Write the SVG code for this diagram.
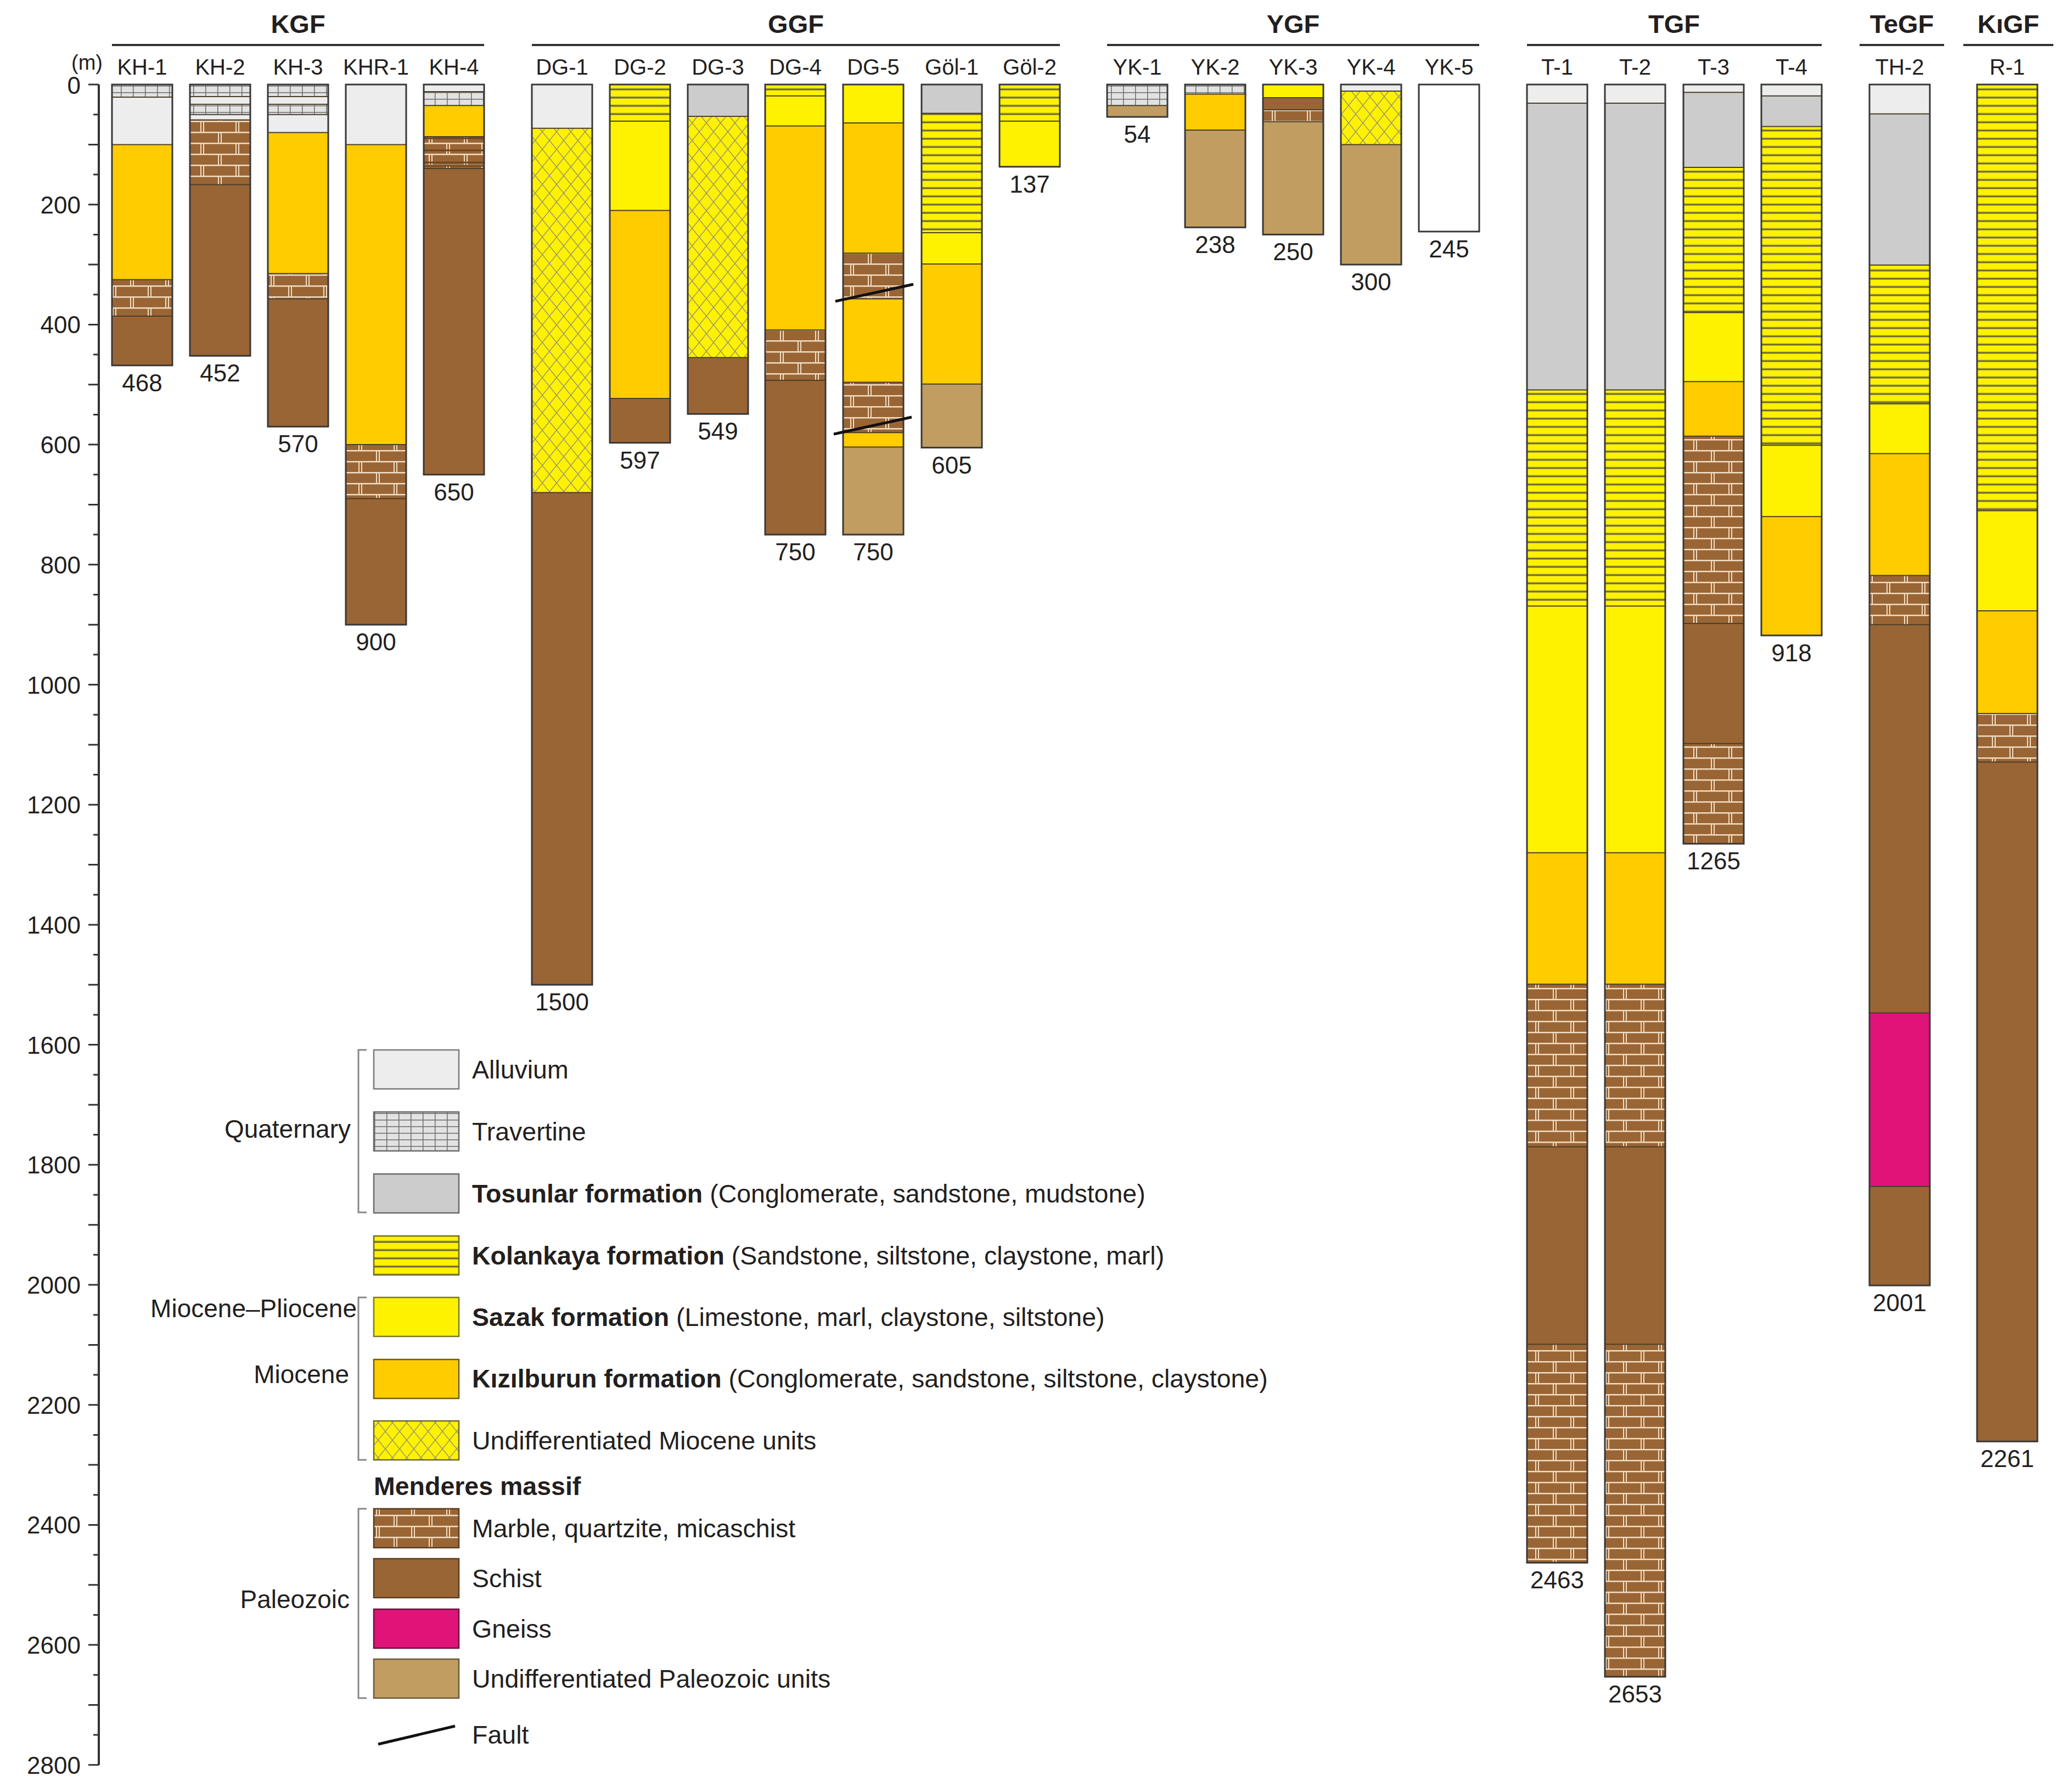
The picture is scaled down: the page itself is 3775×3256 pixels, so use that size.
<svg xmlns="http://www.w3.org/2000/svg" width="3775" height="3256" viewBox="0 0 3775 3256">
<style>
text{font-family:"Liberation Sans",Arial,sans-serif;fill:#231f20}
.hdr{font-size:47px;font-weight:bold;text-anchor:middle}
.wl{font-size:40px;text-anchor:middle}
.dl{font-size:44px;text-anchor:middle}
.ax{font-size:44px;text-anchor:end}
.lg{font-size:46.5px}
.lgl{font-size:46px;text-anchor:end}
.hl{stroke:#333;stroke-width:4;fill:none}
.al{fill:#EDEDED}.tr{fill:url(#trav)}.to{fill:#CCCCCC}.ko{fill:url(#kol)}.sa{fill:#FFF200}.ki{fill:#FFCC00}
.um{fill:url(#umio)}.ma{fill:url(#marb)}.sc{fill:#9A6535}.gn{fill:#DF1378}.up{fill:#C19D62}.wh{fill:#FFFFFF}
.sep{stroke:#4a3f2a;stroke-width:2;fill:none}
.out{fill:none;stroke:#383838;stroke-width:3}
.flt{stroke:#111;stroke-width:5;stroke-linecap:butt}
.brk{stroke:#888;stroke-width:3;fill:none}
.lb{stroke-width:2.5}
</style>
<defs>
<pattern id="trav" patternUnits="userSpaceOnUse" width="22" height="12">
<rect width="22" height="12" fill="#E2E2E2"/>
<path d="M0 0.75H22M0.75 0V12" stroke="#6a6a6a" stroke-width="1.5"/>
</pattern>
<pattern id="kol" patternUnits="userSpaceOnUse" width="20" height="15">
<rect width="20" height="15" fill="#FFF200"/>
<rect y="10.5" width="20" height="4.5" fill="#ABA53A"/>
<rect y="12" width="20" height="1.6" fill="#5E5A28"/>
</pattern>
<pattern id="umio" patternUnits="userSpaceOnUse" width="26" height="32">
<rect width="26" height="32" fill="#FFF200"/>
<path d="M0 16L13 0L26 16L13 32Z" fill="none" stroke="#9E9A6B" stroke-width="1.6"/>
</pattern>
<pattern id="marb" patternUnits="userSpaceOnUse" width="64" height="40">
<rect width="64" height="40" fill="#9A6535"/>
<path d="M0 1.25H64M0 21.25H64" stroke="#F3DEC2" stroke-width="2.5"/>
<path d="M14 1V21M19 1V21M46 21V41M51 21V41" stroke="#F3DEC2" stroke-width="2"/>
</pattern>
</defs>

<g id="axis">
<path class="hl" d="M180 154V3216"/>
<path stroke="#333" stroke-width="3" fill="none" d="M161 154H180M170 208.7H180M161 263.4H180M170 318H180M161 372.7H180M170 427.4H180M161 482.1H180M170 536.7H180M161 591.4H180M170 646.1H180M161 700.8H180M170 755.4H180M161 810.1H180M170 864.8H180M161 919.5H180M170 974.1H180M161 1028.8H180M170 1083.5H180M161 1138.2H180M170 1192.8H180M161 1247.5H180M170 1302.2H180M161 1356.9H180M170 1411.5H180M161 1466.2H180M170 1520.9H180M161 1575.6H180M170 1630.2H180M161 1684.9H180M170 1739.6H180M161 1794.3H180M170 1848.9H180M161 1903.6H180M170 1958.3H180M161 2013H180M170 2067.6H180M161 2122.3H180M170 2177H180M161 2231.7H180M170 2286.3H180M161 2341H180M170 2395.7H180M161 2450.4H180M170 2505H180M161 2559.7H180M170 2614.4H180M161 2669.1H180M170 2723.7H180M161 2778.4H180M170 2833.1H180M161 2887.8H180M170 2942.4H180M161 2997.1H180M170 3051.8H180M161 3106.5H180M170 3161.1H180M161 3215.8H180"/>
<text x="130" y="127" style="font-size:38px">(m)</text>
<text class="ax" x="147" y="171">0</text>
<text class="ax" x="147" y="388.7">200</text>
<text class="ax" x="147" y="607.4">400</text>
<text class="ax" x="147" y="826.1">600</text>
<text class="ax" x="147" y="1044.8">800</text>
<text class="ax" x="147" y="1263.5">1000</text>
<text class="ax" x="147" y="1482.2">1200</text>
<text class="ax" x="147" y="1700.9">1400</text>
<text class="ax" x="147" y="1919.6">1600</text>
<text class="ax" x="147" y="2138.3">1800</text>
<text class="ax" x="147" y="2357">2000</text>
<text class="ax" x="147" y="2575.7">2200</text>
<text class="ax" x="147" y="2794.4">2400</text>
<text class="ax" x="147" y="3013.1">2600</text>
<text class="ax" x="147" y="3231.8">2800</text>
</g>

<g id="headers">
<text class="hdr" x="543" y="60">KGF</text><path class="hl" d="M204 82H882"/>
<text class="hdr" x="1450" y="60">GGF</text><path class="hl" d="M969 82H1931"/>
<text class="hdr" x="2356" y="60">YGF</text><path class="hl" d="M2017 82H2695"/>
<text class="hdr" x="3050" y="60">TGF</text><path class="hl" d="M2782 82H3319"/>
<text class="hdr" x="3465" y="60">TeGF</text><path class="hl" d="M3388 82H3542"/>
<text class="hdr" x="3659" y="60">KıGF</text><path class="hl" d="M3577 82H3741"/>
</g>

<!-- KGF -->
<g id="KH-1">
<text class="wl" x="259" y="136">KH-1</text>
<rect class="tr" x="204" y="154" width="110" height="23"/>
<rect class="al" x="204" y="177" width="110" height="86.4"/>
<rect class="ki" x="204" y="263.4" width="110" height="246"/>
<rect class="ma" x="204" y="509.4" width="110" height="66.7"/>
<rect class="sc" x="204" y="576.1" width="110" height="89.7"/>
<path class="sep" d="M204 177h110M204 263.4h110M204 509.4h110M204 576.1h110"/>
<rect class="out" x="204" y="154" width="110" height="511.8"/>
<text class="dl" x="259" y="713">468</text>
</g>
<g id="KH-2">
<text class="wl" x="401" y="136">KH-2</text>
<rect class="tr" x="346" y="154" width="110" height="21.9"/>
<rect class="al" x="346" y="175.9" width="110" height="14.2"/>
<rect class="tr" x="346" y="190.1" width="110" height="18.6"/>
<rect class="al" x="346" y="208.7" width="110" height="9.8"/>
<rect class="ma" x="346" y="218.5" width="110" height="118.1"/>
<rect class="sc" x="346" y="336.6" width="110" height="311.7"/>
<path class="sep" d="M346 175.9h110M346 190.1h110M346 208.7h110M346 218.5h110M346 336.6h110"/>
<rect class="out" x="346" y="154" width="110" height="494.3"/>
<text class="dl" x="401" y="695">452</text>
</g>
<g id="KH-3">
<text class="wl" x="543" y="136">KH-3</text>
<rect class="tr" x="488" y="154" width="110" height="21.9"/>
<rect class="al" x="488" y="175.9" width="110" height="14.2"/>
<rect class="tr" x="488" y="190.1" width="110" height="18.6"/>
<rect class="al" x="488" y="208.7" width="110" height="32.8"/>
<rect class="ki" x="488" y="241.5" width="110" height="257"/>
<rect class="ma" x="488" y="498.5" width="110" height="45.9"/>
<rect class="sc" x="488" y="544.4" width="110" height="232.9"/>
<path class="sep" d="M488 175.9h110M488 190.1h110M488 208.7h110M488 241.5h110M488 498.5h110M488 544.4h110"/>
<rect class="out" x="488" y="154" width="110" height="623.3"/>
<text class="dl" x="543" y="824">570</text>
</g>
<g id="KHR-1">
<text class="wl" x="685" y="136">KHR-1</text>
<rect class="al" x="630" y="154" width="110" height="109.4"/>
<rect class="ki" x="630" y="263.4" width="110" height="546.7"/>
<rect class="ma" x="630" y="810.1" width="110" height="98.4"/>
<rect class="sc" x="630" y="908.5" width="110" height="229.7"/>
<path class="sep" d="M630 263.4h110M630 810.1h110M630 908.5h110"/>
<rect class="out" x="630" y="154" width="110" height="984.2"/>
<text class="dl" x="685" y="1185">900</text>
</g>
<g id="KH-4">
<text class="wl" x="827" y="136">KH-4</text>
<rect class="al" x="772" y="154" width="110" height="13.1"/>
<rect class="tr" x="772" y="167.1" width="110" height="25.2"/>
<rect class="ki" x="772" y="192.3" width="110" height="56.8"/>
<rect class="ma" x="772" y="249.1" width="110" height="58"/>
<rect class="sc" x="772" y="307.1" width="110" height="557.7"/>
<path d="M772 252h110M772 274h110M772 296h110M772 302h110" stroke="#6b4420" stroke-width="3"/>
<path class="sep" d="M772 167.1h110M772 192.3h110M772 249.1h110M772 307.1h110"/>
<rect class="out" x="772" y="154" width="110" height="710.8"/>
<text class="dl" x="827" y="912">650</text>
</g>

<!-- GGF -->
<g id="DG-1">
<text class="wl" x="1024" y="136">DG-1</text>
<rect class="al" x="969" y="154" width="110" height="79.8"/>
<rect class="um" x="969" y="233.8" width="110" height="663.8"/>
<rect class="sc" x="969" y="897.6" width="110" height="896.7"/>
<path class="sep" d="M969 233.8h110M969 897.6h110"/>
<rect class="out" x="969" y="154" width="110" height="1640.3"/>
<text class="dl" x="1024" y="1841">1500</text>
</g>
<g id="DG-2">
<text class="wl" x="1166" y="136">DG-2</text>
<rect class="ko" x="1111" y="154" width="110" height="66.7"/>
<rect class="sa" x="1111" y="220.7" width="110" height="162.9"/>
<rect class="ki" x="1111" y="383.6" width="110" height="342.3"/>
<rect class="sc" x="1111" y="725.9" width="110" height="80.9"/>
<path class="sep" d="M1111 220.7h110M1111 383.6h110M1111 725.9h110"/>
<rect class="out" x="1111" y="154" width="110" height="652.8"/>
<text class="dl" x="1166" y="854">597</text>
</g>
<g id="DG-3">
<text class="wl" x="1308" y="136">DG-3</text>
<rect class="to" x="1253" y="154" width="110" height="58"/>
<rect class="um" x="1253" y="212" width="110" height="439.5"/>
<rect class="sc" x="1253" y="651.5" width="110" height="102.8"/>
<path class="sep" d="M1253 212h110M1253 651.5h110"/>
<rect class="out" x="1253" y="154" width="110" height="600.3"/>
<text class="dl" x="1308" y="801">549</text>
</g>
<g id="DG-4">
<text class="wl" x="1449" y="136">DG-4</text>
<rect class="ko" x="1394" y="154" width="110" height="20.8"/>
<rect class="sa" x="1394" y="174.8" width="110" height="54.7"/>
<rect class="ki" x="1394" y="229.5" width="110" height="371.7"/>
<rect class="ma" x="1394" y="601.2" width="110" height="91.9"/>
<rect class="sc" x="1394" y="693.1" width="110" height="281"/>
<path class="sep" d="M1394 174.8h110M1394 229.5h110M1394 601.2h110M1394 693.1h110"/>
<rect class="out" x="1394" y="154" width="110" height="820.1"/>
<text class="dl" x="1449" y="1021">750</text>
</g>
<g id="DG-5">
<text class="wl" x="1591" y="136">DG-5</text>
<rect class="sa" x="1536" y="154" width="110" height="70"/>
<rect class="ki" x="1536" y="224" width="110" height="237.3"/>
<rect class="ma" x="1536" y="461.3" width="110" height="83.1"/>
<rect class="ki" x="1536" y="544.4" width="110" height="152"/>
<rect class="ma" x="1536" y="696.4" width="110" height="91.8"/>
<rect class="ki" x="1536" y="788.2" width="110" height="26.3"/>
<rect class="up" x="1536" y="814.5" width="110" height="159.6"/>
<path class="sep" d="M1536 224h110M1536 461.3h110M1536 544.4h110M1536 696.4h110M1536 788.2h110M1536 814.5h110"/>
<rect class="out" x="1536" y="154" width="110" height="820.1"/>
<path class="flt" d="M1522 549L1664 518M1519 791L1661 760"/>
<text class="dl" x="1591" y="1021">750</text>
</g>
<g id="Gol-1">
<text class="wl" x="1734" y="136">Göl-1</text>
<rect class="to" x="1679" y="154" width="110" height="52.5"/>
<rect class="ko" x="1679" y="206.5" width="110" height="217.6"/>
<rect class="sa" x="1679" y="424.1" width="110" height="56.9"/>
<rect class="ki" x="1679" y="481" width="110" height="218.7"/>
<rect class="up" x="1679" y="699.7" width="110" height="115.9"/>
<path class="sep" d="M1679 206.5h110M1679 424.1h110M1679 481h110M1679 699.7h110"/>
<rect class="out" x="1679" y="154" width="110" height="661.6"/>
<text class="dl" x="1734" y="863">605</text>
</g>
<g id="Gol-2">
<text class="wl" x="1876" y="136">Göl-2</text>
<rect class="ko" x="1821" y="154" width="110" height="66.7"/>
<rect class="sa" x="1821" y="220.7" width="110" height="83.1"/>
<path class="sep" d="M1821 220.7h110"/>
<rect class="out" x="1821" y="154" width="110" height="149.8"/>
<text class="dl" x="1876" y="351">137</text>
</g>

<!-- YGF -->
<g id="YK-1">
<text class="wl" x="2072" y="136">YK-1</text>
<rect class="tr" x="2017" y="154" width="110" height="38.3"/>
<rect class="up" x="2017" y="192.3" width="110" height="20.7"/>
<path class="sep" d="M2017 192.3h110"/>
<rect class="out" x="2017" y="154" width="110" height="59"/>
<text class="dl" x="2072" y="260">54</text>
</g>
<g id="YK-2">
<text class="wl" x="2214" y="136">YK-2</text>
<rect class="tr" x="2159" y="154" width="110" height="17.5"/>
<rect class="ki" x="2159" y="171.5" width="110" height="65.6"/>
<rect class="up" x="2159" y="237.1" width="110" height="177.2"/>
<path class="sep" d="M2159 171.5h110M2159 237.1h110"/>
<rect class="out" x="2159" y="154" width="110" height="260.3"/>
<text class="dl" x="2214" y="461">238</text>
</g>
<g id="YK-3">
<text class="wl" x="2356" y="136">YK-3</text>
<rect class="sa" x="2301" y="154" width="110" height="24.1"/>
<rect class="sc" x="2301" y="178.1" width="110" height="21.8"/>
<rect class="ma" x="2301" y="199.9" width="110" height="21.9"/>
<rect class="up" x="2301" y="221.8" width="110" height="205.6"/>
<path class="sep" d="M2301 178.1h110M2301 199.9h110M2301 221.8h110"/>
<rect class="out" x="2301" y="154" width="110" height="273.4"/>
<text class="dl" x="2356" y="474">250</text>
</g>
<g id="YK-4">
<text class="wl" x="2498" y="136">YK-4</text>
<rect class="al" x="2443" y="154" width="110" height="12"/>
<rect class="um" x="2443" y="166" width="110" height="97.4"/>
<rect class="up" x="2443" y="263.4" width="110" height="218.7"/>
<path class="sep" d="M2443 166h110M2443 263.4h110"/>
<rect class="out" x="2443" y="154" width="110" height="328.1"/>
<text class="dl" x="2498" y="529">300</text>
</g>
<g id="YK-5">
<text class="wl" x="2640" y="136">YK-5</text>
<rect class="wh" x="2585" y="154" width="110" height="267.9"/>
<rect class="out" x="2585" y="154" width="110" height="267.9"/>
<text class="dl" x="2640" y="469">245</text>
</g>

<!-- TGF -->
<g id="T-1">
<text class="wl" x="2837" y="136">T-1</text>
<rect class="al" x="2782" y="154" width="110" height="33.9"/>
<rect class="to" x="2782" y="187.9" width="110" height="522.7"/>
<rect class="ko" x="2782" y="710.6" width="110" height="393.7"/>
<rect class="sa" x="2782" y="1104.3" width="110" height="449.4"/>
<rect class="ki" x="2782" y="1553.7" width="110" height="239.5"/>
<rect class="ma" x="2782" y="1793.2" width="110" height="296.3"/>
<rect class="sc" x="2782" y="2089.5" width="110" height="359.8"/>
<rect class="ma" x="2782" y="2449.3" width="110" height="398"/>
<path class="sep" d="M2782 187.9h110M2782 710.6h110M2782 1104.3h110M2782 1553.7h110M2782 1793.2h110M2782 2089.5h110M2782 2449.3h110"/>
<rect class="out" x="2782" y="154" width="110" height="2693.3"/>
<text class="dl" x="2837" y="2894">2463</text>
</g>
<g id="T-2">
<text class="wl" x="2979" y="136">T-2</text>
<rect class="al" x="2924" y="154" width="110" height="33.9"/>
<rect class="to" x="2924" y="187.9" width="110" height="522.7"/>
<rect class="ko" x="2924" y="710.6" width="110" height="393.7"/>
<rect class="sa" x="2924" y="1104.3" width="110" height="449.4"/>
<rect class="ki" x="2924" y="1553.7" width="110" height="239.5"/>
<rect class="ma" x="2924" y="1793.2" width="110" height="296.3"/>
<rect class="sc" x="2924" y="2089.5" width="110" height="359.8"/>
<rect class="ma" x="2924" y="2449.3" width="110" height="605.8"/>
<path class="sep" d="M2924 187.9h110M2924 710.6h110M2924 1104.3h110M2924 1553.7h110M2924 1793.2h110M2924 2089.5h110M2924 2449.3h110"/>
<rect class="out" x="2924" y="154" width="110" height="2901.1"/>
<text class="dl" x="2979" y="3102">2653</text>
</g>
<g id="T-3">
<text class="wl" x="3122" y="136">T-3</text>
<rect class="al" x="3067" y="154" width="110" height="14.2"/>
<rect class="to" x="3067" y="168.2" width="110" height="136.7"/>
<rect class="ko" x="3067" y="304.9" width="110" height="264.6"/>
<rect class="sa" x="3067" y="569.5" width="110" height="125.8"/>
<rect class="ki" x="3067" y="695.3" width="110" height="99.5"/>
<rect class="ma" x="3067" y="794.8" width="110" height="341.2"/>
<rect class="sc" x="3067" y="1136" width="110" height="218.7"/>
<rect class="ma" x="3067" y="1354.7" width="110" height="182.6"/>
<path class="sep" d="M3067 168.2h110M3067 304.9h110M3067 569.5h110M3067 695.3h110M3067 794.8h110M3067 1136h110M3067 1354.7h110"/>
<rect class="out" x="3067" y="154" width="110" height="1383.3"/>
<text class="dl" x="3122" y="1584">1265</text>
</g>
<g id="T-4">
<text class="wl" x="3264" y="136">T-4</text>
<rect class="al" x="3209" y="154" width="110" height="20.8"/>
<rect class="to" x="3209" y="174.8" width="110" height="55.7"/>
<rect class="ko" x="3209" y="230.5" width="110" height="580.7"/>
<rect class="sa" x="3209" y="811.2" width="110" height="130.1"/>
<rect class="ki" x="3209" y="941.3" width="110" height="216.5"/>
<path class="sep" d="M3209 174.8h110M3209 230.5h110M3209 811.2h110M3209 941.3h110"/>
<rect class="out" x="3209" y="154" width="110" height="1003.8"/>
<text class="dl" x="3264" y="1205">918</text>
</g>

<!-- TeGF -->
<g id="TH-2">
<text class="wl" x="3461" y="136">TH-2</text>
<rect class="al" x="3406" y="154" width="110" height="53.6"/>
<rect class="to" x="3406" y="207.6" width="110" height="275.5"/>
<rect class="ko" x="3406" y="483.1" width="110" height="252.6"/>
<rect class="sa" x="3406" y="735.7" width="110" height="90.8"/>
<rect class="ki" x="3406" y="826.5" width="110" height="222"/>
<rect class="ma" x="3406" y="1048.5" width="110" height="89.7"/>
<rect class="sc" x="3406" y="1138.2" width="110" height="707.4"/>
<rect class="gn" x="3406" y="1845.6" width="110" height="316.1"/>
<rect class="sc" x="3406" y="2161.7" width="110" height="180.4"/>
<path class="sep" d="M3406 207.6h110M3406 483.1h110M3406 735.7h110M3406 826.5h110M3406 1048.5h110M3406 1138.2h110M3406 1845.6h110M3406 2161.7h110"/>
<rect class="out" x="3406" y="154" width="110" height="2188.1"/>
<text class="dl" x="3461" y="2389">2001</text>
</g>

<!-- KıGF -->
<g id="R-1">
<text class="wl" x="3657" y="136">R-1</text>
<rect class="ko" x="3602" y="154" width="110" height="776.4"/>
<rect class="sa" x="3602" y="930.4" width="110" height="182.6"/>
<rect class="ki" x="3602" y="1113" width="110" height="187"/>
<rect class="ma" x="3602" y="1300" width="110" height="88.6"/>
<rect class="sc" x="3602" y="1388.6" width="110" height="1237.8"/>
<path class="sep" d="M3602 930.4h110M3602 1113h110M3602 1300h110M3602 1388.6h110"/>
<rect class="out" x="3602" y="154" width="110" height="2472.4"/>
<text class="dl" x="3657" y="2673">2261</text>
</g>

<!-- Legend -->
<g id="legend">
<path class="brk" d="M668 1913H653V2209H668M668 2364H653V2660H668M668 2749H653V3094H668"/>
<text class="lgl" x="639" y="2073">Quaternary</text>
<text class="lgl" x="650" y="2400">Miocene–Pliocene</text>
<text class="lgl" x="636" y="2520">Miocene</text>
<text class="lgl" x="637" y="2930">Paleozoic</text>
<g id="lg-alluvium"><rect class="al lb" x="681" y="1913" width="155" height="71" stroke="#7a7a7a"/><text class="lg" x="860" y="1965">Alluvium</text></g>
<g id="lg-travertine"><rect class="tr lb" x="681" y="2026" width="155" height="71" stroke="#6a6a6a"/><text class="lg" x="860" y="2078">Travertine</text></g>
<g id="lg-tosunlar"><rect class="to lb" x="681" y="2139" width="155" height="71" stroke="#6a6a6a"/><text class="lg" x="860" y="2191"><tspan font-weight="bold">Tosunlar formation</tspan> (Conglomerate, sandstone, mudstone)</text></g>
<g id="lg-kolankaya"><rect class="ko lb" x="681" y="2252" width="155" height="71" stroke="#6b6a2a"/><text class="lg" x="860" y="2304"><tspan font-weight="bold">Kolankaya formation</tspan> (Sandstone, siltstone, claystone, marl)</text></g>
<g id="lg-sazak"><rect class="sa lb" x="681" y="2364" width="155" height="71" stroke="#7a7820"/><text class="lg" x="860" y="2416"><tspan font-weight="bold">Sazak formation</tspan> (Limestone, marl, claystone, siltstone)</text></g>
<g id="lg-kizilburun"><rect class="ki lb" x="681" y="2477" width="155" height="71" stroke="#6e5a12"/><text class="lg" x="860" y="2528"><tspan font-weight="bold">Kızılburun formation</tspan> (Conglomerate, sandstone, siltstone, claystone)</text></g>
<g id="lg-umiocene"><rect class="um lb" x="681" y="2589" width="155" height="71" stroke="#6b6a2a"/><text class="lg" x="860" y="2641">Undifferentiated Miocene units</text></g>
<text class="lg" x="681" y="2724" font-weight="bold">Menderes massif</text>
<g id="lg-marble"><rect class="ma lb" x="681" y="2749" width="155" height="71" stroke="#5a3c1f"/><text class="lg" x="860" y="2801">Marble, quartzite, micaschist</text></g>
<g id="lg-schist"><rect class="sc lb" x="681" y="2840" width="155" height="71" stroke="#5a3c1f"/><text class="lg" x="860" y="2892">Schist</text></g>
<g id="lg-gneiss"><rect class="gn lb" x="681" y="2932" width="155" height="71" stroke="#6b1040"/><text class="lg" x="860" y="2984">Gneiss</text></g>
<g id="lg-upaleozoic"><rect class="up lb" x="681" y="3023" width="155" height="71" stroke="#6b5a3a"/><text class="lg" x="860" y="3075">Undifferentiated Paleozoic units</text></g>
<g id="lg-fault"><path class="flt" d="M689 3178L829 3145"/><text class="lg" x="860" y="3177">Fault</text></g>
</g>
</svg>
